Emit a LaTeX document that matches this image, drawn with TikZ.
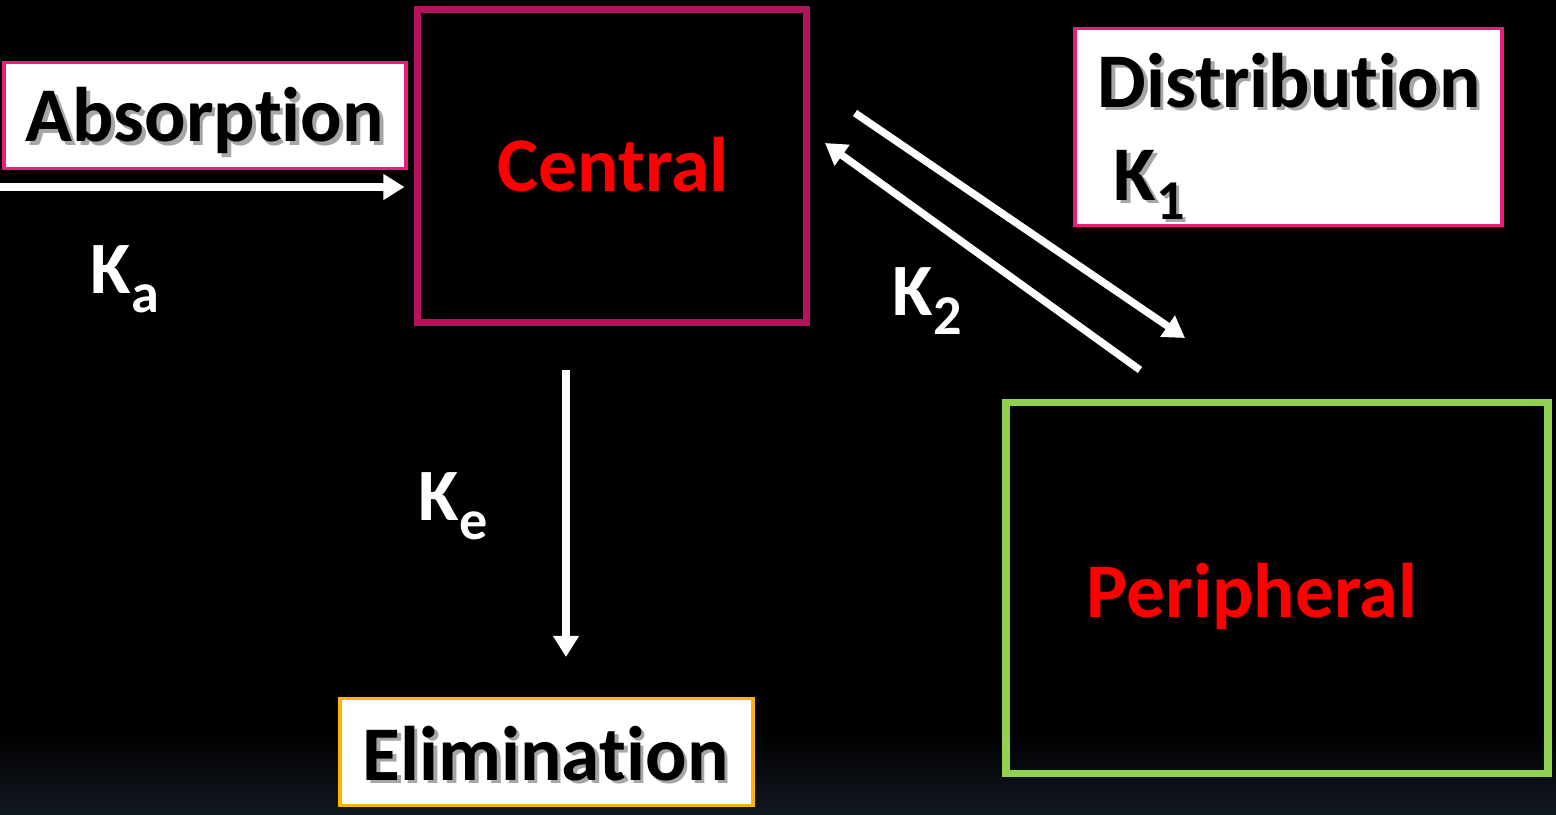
\documentclass[tikz,border=0pt]{standalone}
\usepackage{fontspec}
\setmainfont[Ligatures=NoCommon]{Carlito}
\usetikzlibrary{arrows.meta}
\definecolor{centralc}{HTML}{B3145E}
\definecolor{pinkc}{HTML}{EC1C7D}
\definecolor{greenc}{HTML}{92D050}
\definecolor{orangec}{HTML}{FFB400}
\definecolor{bgbot}{HTML}{121821}
\newcommand\shtext[1]{\makebox[0pt][l]{\hspace{1pt}\raisebox{-1pt}{\color{black!35}#1}}#1}
\tikzset{
  big/.style={font=\fontsize{22pt}{24pt}\selectfont\bfseries, inner sep=0pt},
  klabel/.style={font=\fontsize{21pt}{22pt}\selectfont\bfseries, inner sep=0pt, text=white},
  labelbox/.style={draw=pinkc, fill=white, line width=1.1pt, inner sep=0pt},
  flow/.style={draw=white, line width=2.1pt, -{Triangle[length=6pt,width=7pt]}}
}
\newcommand\sub[1]{\raisebox{-5.5pt}{\fontsize{16pt}{16pt}\selectfont #1}}
\begin{document}
\begin{tikzpicture}[x=0.01cm,y=-0.01cm]
\useasboundingbox (0,0) rectangle (1556,815);
\fill[black] (0,0) rectangle (1556,815);
\shade[top color=black, bottom color=bgbot] (0,735) rectangle (1556,815);
% boxes
\node[draw=centralc, line width=2pt, minimum width=3.88cm, minimum height=3.12cm, inner sep=0pt] (central) at (612,166) {};
\node[draw=greenc, line width=2.2pt, minimum width=5.41cm, minimum height=3.71cm, inner sep=0pt] (periph) at (1277,588) {};
\node[labelbox, minimum width=4.01cm, minimum height=1.06cm] (absbox) at (205,115.5) {};
\node[labelbox, minimum width=4.26cm, minimum height=1.97cm] (distbox) at (1288.5,127) {};
\node[labelbox, draw=orangec, minimum width=4.12cm, minimum height=1.07cm] (elimbox) at (546.5,752) {};
% texts
\node[big, anchor=base west] (abstxt) at (25,142) {\shtext{Absorption}};
\node[big, anchor=base west, text=red] (centtxt) at (497,192) {Central};
\node[big, anchor=base west, text=red] (pertxt) at (1086,617) {Peripheral};
\node[big, anchor=base west] (disttxt) at (1097,107) {\shtext{Distribution}};
\node[big, anchor=base west] (k1txt) at (1113,200) {\shtext{K\sub{1}}};
\node[big, anchor=base west] (elimtxt) at (362,780) {\shtext{Elimination}};
\node[klabel, anchor=base west] (ka) at (90,293) {K\sub{a}};
\node[klabel, anchor=base west] (k2) at (892,315) {K\sub{2}};
\node[klabel, anchor=base west] (ke) at (418,520) {K\sub{e}};
% connectors
\coordinate (ain) at (0,187);
\draw[flow, shorten >=2.8pt] (ain) -- (ain -| central.west);
\coordinate (d1s) at (855,113);
\coordinate (d1e) at (1185,338);
\coordinate (d2s) at (1140,370);
\coordinate (d2e) at (825,143);
\coordinate (es) at (566,370);
\coordinate (ee) at (566,657);
\draw[flow] (d1s) -- (d1e);
\draw[flow] (d2s) -- (d2e);
\draw[flow] (es) -- (ee);
\end{tikzpicture}
\end{document}
